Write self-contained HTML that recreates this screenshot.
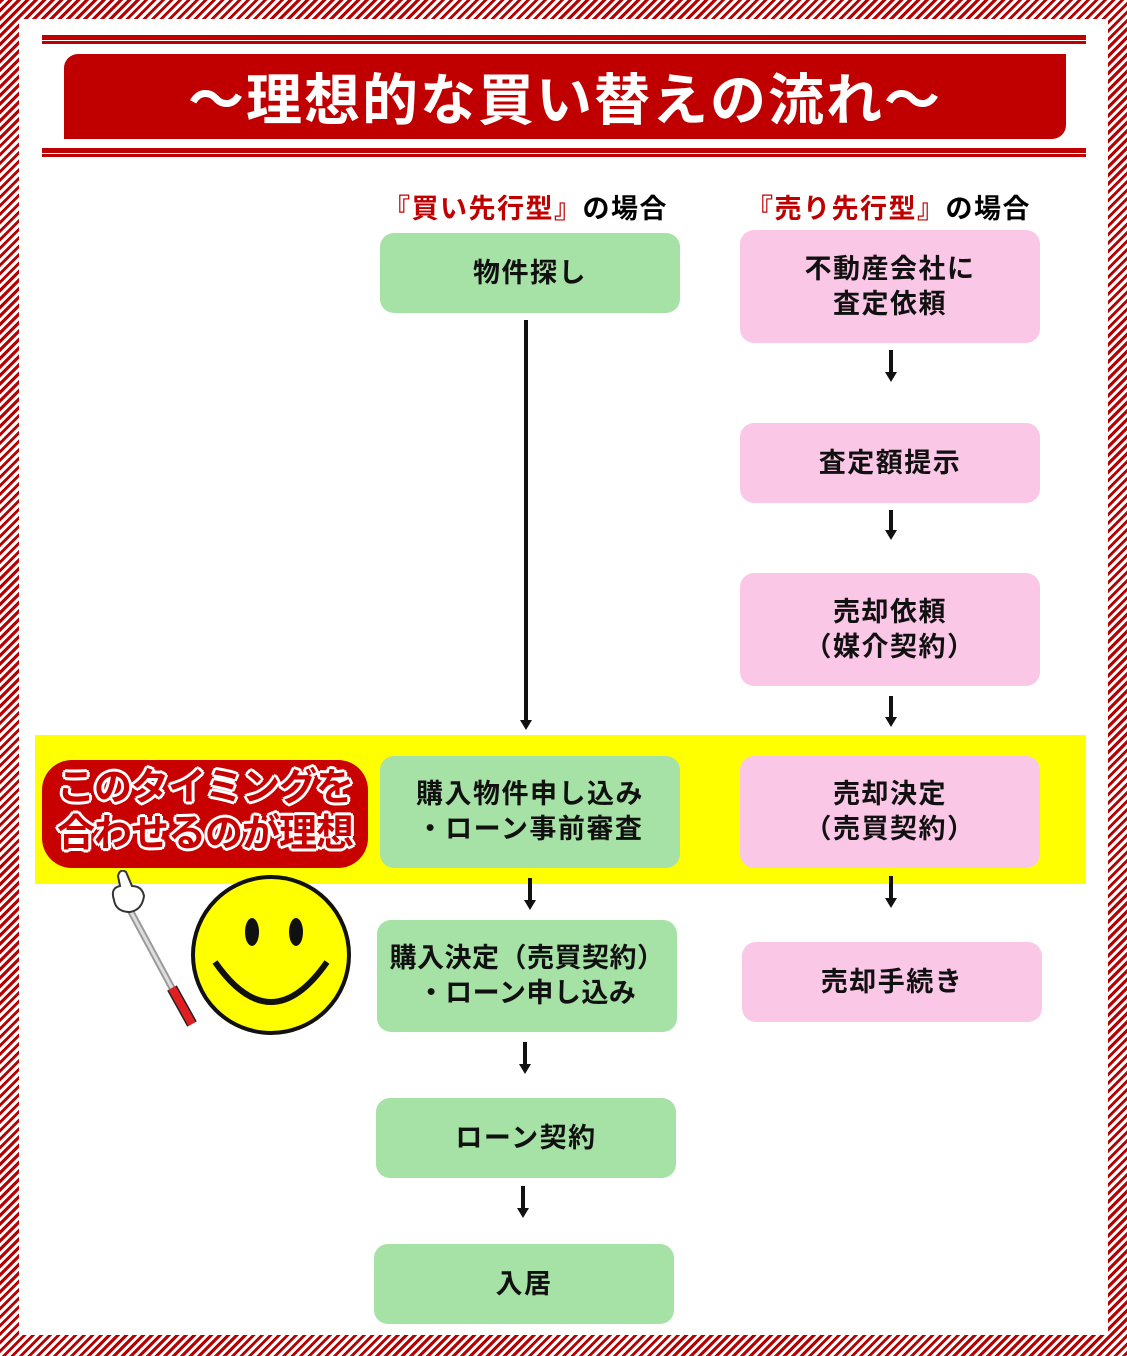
<!DOCTYPE html>
<html><head><meta charset="utf-8"><style>
*{margin:0;padding:0;box-sizing:border-box}
body{width:1127px;height:1356px;position:relative;overflow:hidden;font-family:"Liberation Sans","Noto Sans CJK JP",sans-serif;background:repeating-linear-gradient(135deg,#b80000 0 3px,#fff 3px 6px)}
.in{position:absolute;left:19px;top:19px;width:1089px;height:1316px;background:#fff}
.a{position:absolute}
.b{position:absolute;display:flex;align-items:center;justify-content:center;text-align:center;font-weight:bold;font-size:27px;letter-spacing:1.5px;line-height:35px;border-radius:14px;color:#111}
.g{background:#a6e1a6}.p{background:#fbc7e6}
.v{position:absolute;width:4px;background:#111}
.h{position:absolute;width:0;height:0;border-left:6px solid transparent;border-right:6px solid transparent;border-top:10px solid #111}
.hd{position:absolute;font-weight:bold;font-size:27px;letter-spacing:1.5px;top:187px}
.hd span{color:#c00000}
</style></head><body>
<div class="in"></div>
<div class="a" style="left:42px;top:35px;width:1044px;height:5px;background:#c00000"></div>
<div class="a" style="left:42px;top:41px;width:1044px;height:3px;background:#c00000"></div>
<div class="a" style="left:64px;top:54px;width:1002px;height:85px;background:#c00000;border-radius:14px 0 14px 0;color:#fff;font-size:56px;font-weight:bold;display:flex;align-items:center;justify-content:center;letter-spacing:2px">～理想的な買い替えの流れ～</div>
<div class="a" style="left:42px;top:148px;width:1044px;height:5px;background:#c00000"></div>
<div class="a" style="left:42px;top:154px;width:1044px;height:3px;background:#c00000"></div>

<div class="hd" style="left:383px"><span>『買い先行型』</span>の場合</div>
<div class="hd" style="left:746px"><span>『売り先行型』</span>の場合</div>

<div class="a" style="left:35px;top:735px;width:1051px;height:149px;background:#ffff00"></div>

<div class="b g" style="left:380px;top:233px;width:300px;height:80px">物件探し</div>
<div class="v" style="left:524px;top:320px;height:402px"></div><div class="h" style="left:520px;top:720px"></div>

<div class="b p" style="left:740px;top:230px;width:300px;height:113px">不動産会社に<br>査定依頼</div>
<div class="v" style="left:889px;top:350px;height:24px"></div><div class="h" style="left:885px;top:372px"></div>
<div class="b p" style="left:740px;top:423px;width:300px;height:80px">査定額提示</div>
<div class="v" style="left:889px;top:510px;height:22px"></div><div class="h" style="left:885px;top:530px"></div>
<div class="b p" style="left:740px;top:573px;width:300px;height:113px">売却依頼<br>（媒介契約）</div>
<div class="v" style="left:889px;top:696px;height:22px"></div><div class="h" style="left:885px;top:717px"></div>

<div class="b g" style="left:380px;top:756px;width:300px;height:112px">購入物件申し込み<br>・ローン事前審査</div>
<div class="b p" style="left:740px;top:756px;width:300px;height:112px">売却決定<br>（売買契約）</div>
<div class="v" style="left:528px;top:878px;height:24px"></div><div class="h" style="left:524px;top:900px"></div>
<div class="v" style="left:889px;top:876px;height:24px"></div><div class="h" style="left:885px;top:898px"></div>

<div class="b g" style="left:377px;top:920px;width:300px;height:112px;letter-spacing:0.5px">購入決定（売買契約）<br>・ローン申し込み</div>
<div class="b p" style="left:742px;top:942px;width:300px;height:80px">売却手続き</div>
<div class="v" style="left:523px;top:1042px;height:24px"></div><div class="h" style="left:519px;top:1064px"></div>
<div class="b g" style="left:376px;top:1098px;width:300px;height:80px">ローン契約</div>
<div class="v" style="left:521px;top:1186px;height:24px"></div><div class="h" style="left:517px;top:1208px"></div>
<div class="b g" style="left:374px;top:1244px;width:300px;height:80px">入居</div>

<div class="a" style="left:42px;top:760px;width:326px;height:108px;background:#c80000;border-radius:30px"></div>
<div class="a" style="left:38px;top:765px;width:334px;text-align:center;font-size:38px;line-height:46px;font-weight:bold;color:#c80000;letter-spacing:-1px;text-shadow:2px 0 #fff,-2px 0 #fff,0 2px #fff,0 -2px #fff,2px 2px #fff,-2px -2px #fff,2px -2px #fff,-2px 2px #fff,3px 0 #fff,-3px 0 #fff,0 3px #fff,0 -3px #fff">このタイミングを<br>合わせるのが理想</div>

<svg class="a" style="left:100px;top:870px" width="260" height="170">
<line x1="30" y1="40" x2="72" y2="118" stroke="#999" stroke-width="7"/>
<line x1="30" y1="40" x2="72" y2="118" stroke="#ddd" stroke-width="3"/>
<line x1="72" y1="118" x2="92" y2="154" stroke="#222" stroke-width="11"/>
<line x1="72" y1="118" x2="92" y2="154" stroke="#e02020" stroke-width="8"/>
<path d="M14 30 q-4-12 6-14 l-2-10 q2-8 8-4 l6 14 q10 0 12 10 q-2 14-14 16 q-14 0-16-12z" fill="#fff" stroke="#333" stroke-width="2"/>
<circle cx="171" cy="85" r="78" fill="#ffff00" stroke="#111" stroke-width="4"/>
<ellipse cx="152" cy="62" rx="7" ry="14" fill="#111"/>
<ellipse cx="196" cy="62" rx="7" ry="14" fill="#111"/>
<path d="M115 92 q56 80 112 0" fill="none" stroke="#111" stroke-width="6"/>
</svg>
</body></html>
